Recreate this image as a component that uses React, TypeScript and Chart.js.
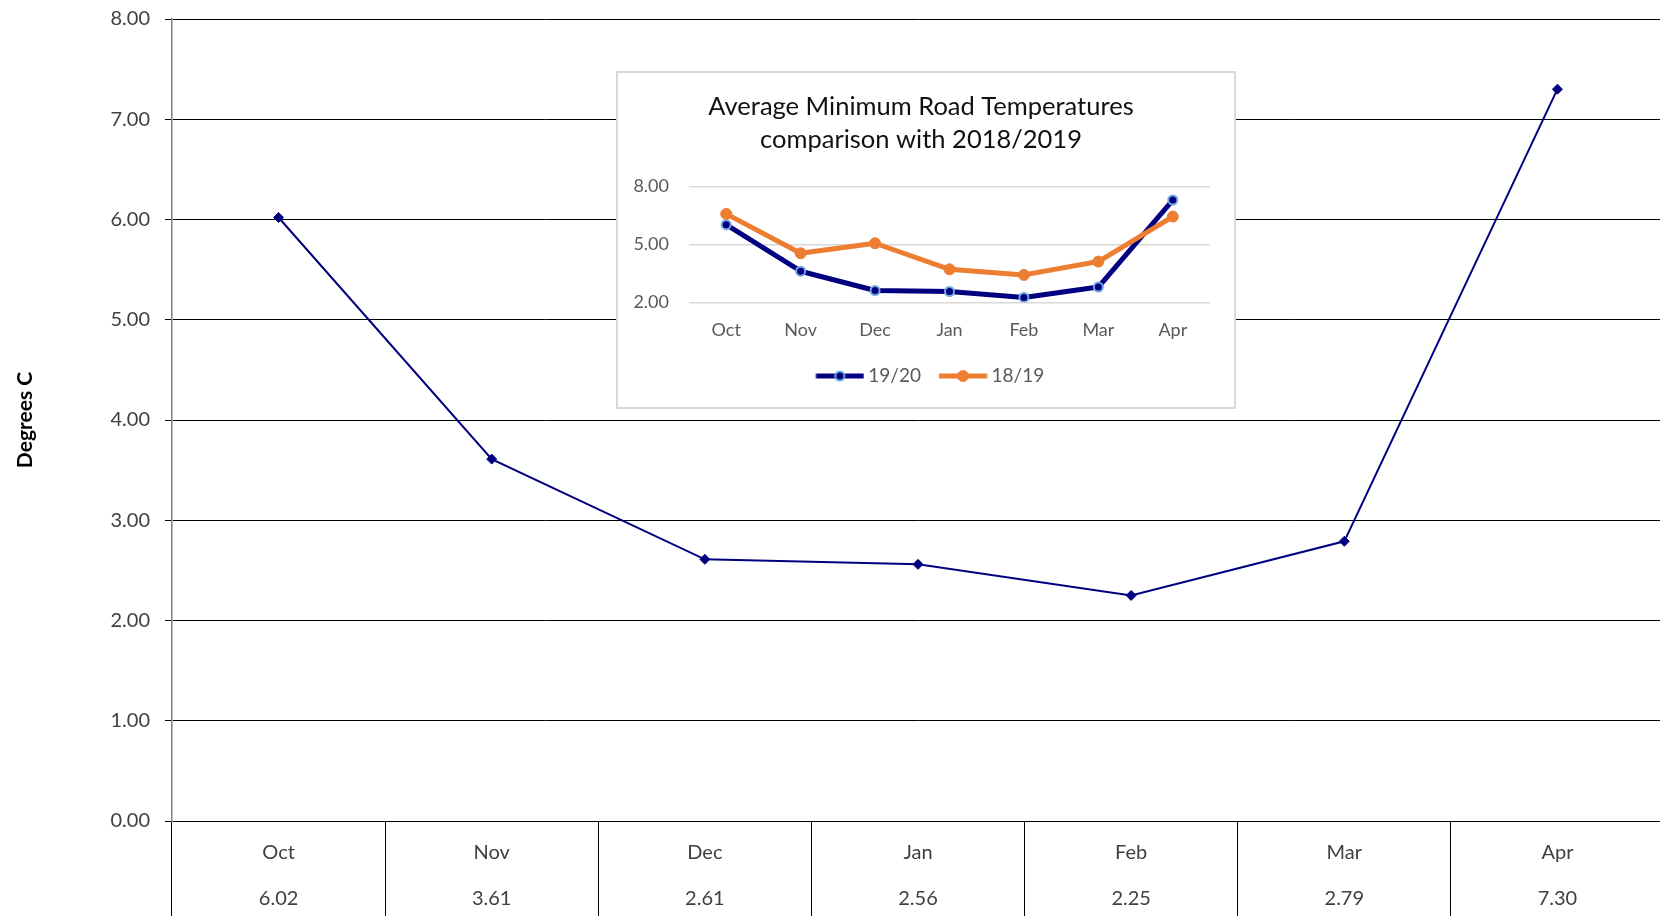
import React, { useEffect, useRef } from "react";
import { Chart, registerables } from "chart.js";

Chart.register(...registerables);

// ---- data ----
const months = ["Oct", "Nov", "Dec", "Jan", "Feb", "Mar", "Apr"];
const temps1920 = [6.02, 3.61, 2.61, 2.56, 2.25, 2.79, 7.3];
const temps1819 = [6.58, 4.54, 5.06, 3.71, 3.42, 4.11, 6.44];
const seriesNames = ["19/20", "18/19"];
const insetTitle = ["Average Minimum Road Temperatures", "comparison with 2018/2019"];
const yAxisTitle = "Degrees C";
const mainYMin = 0;
const mainYMax = 8;
const mainYStep = 1;
const insetYMin = 2;
const insetYMax = 8;
const insetYStep = 3;

const FONT = "Lato, 'Noto Sans', sans-serif";
const NAVY = "#000080";
const ORANGE = "#ED7D31";
const RING = "#6FA8DC";

function makeLegendSymbol(line: string, fill: string, ring: string, r: number, rw: number): HTMLCanvasElement {
  const c = document.createElement("canvas");
  c.width = 72;
  c.height = 16;
  const ctx = c.getContext("2d")!;
  ctx.strokeStyle = line;
  ctx.lineWidth = 5;
  ctx.beginPath();
  ctx.moveTo(23.5, 8);
  ctx.lineTo(71.5, 8);
  ctx.stroke();
  ctx.beginPath();
  ctx.arc(47.5, 8, r, 0, Math.PI * 2);
  ctx.fillStyle = fill;
  ctx.fill();
  ctx.lineWidth = rw;
  ctx.strokeStyle = ring;
  ctx.stroke();
  return c;
}

export default function App() {
  const mainRef = useRef<HTMLCanvasElement | null>(null);
  const insetRef = useRef<HTMLCanvasElement | null>(null);

  useEffect(() => {
    const tableLabels = months.map((m, i) => [m, temps1920[i].toFixed(2)]);
    const main = new Chart(mainRef.current!, {
      type: "line",
      data: {
        labels: tableLabels,
        datasets: [
          {
            label: seriesNames[0],
            data: temps1920,
            borderColor: NAVY,
            backgroundColor: NAVY,
            borderWidth: 2,
            pointStyle: "rectRot",
            pointRadius: 5,
            pointBorderWidth: 1,
            pointBorderColor: NAVY,
            tension: 0,
          },
        ],
      },
      options: {
        responsive: false,
        animation: false,
        layout: { padding: { top: 19, left: 0, right: 2, bottom: 3 } },
        plugins: { legend: { display: false }, tooltip: { enabled: false }, title: { display: false } },
        scales: {
          x: {
            offset: true,
            grid: { offset: true, drawOnChartArea: false, drawTicks: true, tickLength: 100, color: "#000", lineWidth: 1 },
            border: { display: true, color: "#000", width: 1 },
            ticks: {
              font: { family: FONT, size: 20, lineHeight: 2.3 },
              color: "#404040",
              padding: -91,
              maxRotation: 0,
              autoSkip: false,
            },
            afterFit: (s: any) => {
              s.height = 98;
            },
          },
          y: {
            min: mainYMin,
            max: mainYMax,
            ticks: {
              stepSize: mainYStep,
              callback: (v: any) => Number(v).toFixed(2),
              font: { family: FONT, size: 20 },
              color: "#404040",
              padding: 15,
            },
            grid: { color: "#000", tickLength: 7, lineWidth: 1 },
            border: { display: true, color: "#808080", width: 1.5 },
            title: {
              display: true,
              text: yAxisTitle,
              font: { family: FONT, size: 21, weight: "bold" },
              color: "#000",
              padding: { top: 12.4, bottom: 0 },
            },
            afterFit: (s: any) => {
              s.width = 172;
            },
          },
        },
      },
    } as any);

    const symbols = [makeLegendSymbol(NAVY, NAVY, RING, 4.5, 2), makeLegendSymbol(ORANGE, ORANGE, ORANGE, 5.5, 1)];

    const inset = new Chart(insetRef.current!, {
      type: "line",
      data: {
        labels: months,
        datasets: [
          {
            label: seriesNames[0],
            data: temps1920,
            order: 1,
            borderColor: NAVY,
            backgroundColor: NAVY,
            borderWidth: 5,
            pointRadius: 4.5,
            pointBackgroundColor: NAVY,
            pointBorderColor: RING,
            pointBorderWidth: 2,
            tension: 0,
            borderJoinStyle: "round",
          },
          {
            label: seriesNames[1],
            data: temps1819,
            order: 0,
            borderColor: ORANGE,
            backgroundColor: ORANGE,
            borderWidth: 5,
            pointRadius: 5.5,
            pointBackgroundColor: ORANGE,
            pointBorderColor: ORANGE,
            pointBorderWidth: 1,
            tension: 0,
            borderJoinStyle: "round",
          },
        ],
      },
      options: {
        responsive: false,
        animation: false,
        layout: { padding: { top: 0, left: 0, right: 10, bottom: 11.5 } },
        plugins: {
          tooltip: { enabled: false },
          title: {
            display: true,
            text: insetTitle,
            font: { family: FONT, size: 25.5, weight: "normal", lineHeight: 33 / 25.5 },
            color: "#111",
            padding: { top: 17.5, bottom: 30 },
          },
          legend: {
            display: true,
            position: "bottom",
            labels: {
              usePointStyle: true,
              pointStyleWidth: 61,
              padding: 0,
              color: "#595959",
              font: { family: FONT, size: 19 },
              sort: (a: any, b: any) => a.datasetIndex - b.datasetIndex,
              generateLabels: (chart: any) => {
                const items = (Chart.defaults.plugins.legend.labels as any).generateLabels(chart);
                items.forEach((it: any) => {
                  it.pointStyle = symbols[it.datasetIndex];
                  it.fontColor = "#595959";
                });
                return items;
              },
            },
          },
        },
        scales: {
          x: {
            offset: true,
            grid: { display: false, drawTicks: false },
            border: { display: false },
            ticks: { font: { family: FONT, size: 18 }, color: "#595959", padding: 16.9, maxRotation: 0 },
            afterFit: (s: any) => {
              s.height = 64.2;
            },
          },
          y: {
            min: insetYMin,
            max: insetYMax,
            ticks: {
              stepSize: insetYStep,
              callback: (v: any) => Number(v).toFixed(2),
              font: { family: FONT, size: 18 },
              color: "#595959",
              padding: 20,
            },
            grid: { color: "#d9d9d9", lineWidth: 1.5, drawTicks: false },
            border: { display: false },
            afterFit: (s: any) => {
              s.width = 71;
            },
          },
          yR: {
            type: "linear",
            position: "right",
            display: true,
            grid: { display: false, drawTicks: false },
            border: { display: false },
            ticks: { display: false },
            afterFit: (s: any) => {
              s.width = 14;
            },
          },
        },
      },
    } as any);

    return () => {
      main.destroy();
      inset.destroy();
    };
  }, []);

  return (
    <div
      style={{
        position: "fixed",
        left: 0,
        top: 0,
        width: 1660,
        height: 916,
        overflow: "hidden",
        background: "#fff",
      }}
    >
      <canvas
        ref={mainRef}
        width={1670}
        height={930}
        style={{ position: "absolute", left: 0, top: -8, width: 1670, height: 930 }}
      />
      <div
        style={{
          position: "absolute",
          left: 616,
          top: 71,
          width: 620,
          height: 338,
          border: "2px solid #d9d9d9",
          boxSizing: "border-box",
          background: "#fff",
        }}
      >
        <canvas ref={insetRef} width={616} height={334} style={{ display: "block", width: 616, height: 334 }} />
      </div>
    </div>
  );
}
